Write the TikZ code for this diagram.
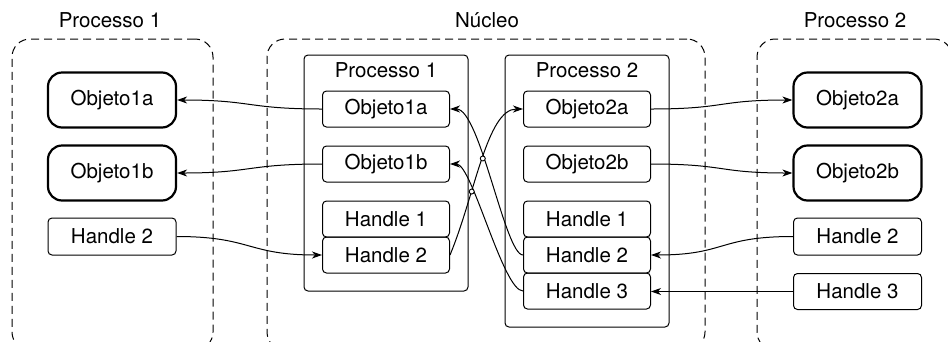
\documentclass[tikz,border=0pt]{standalone}
\usepackage{fontspec}
\setmainfont{TeX Gyre Heros}
\usetikzlibrary{arrows.meta,intersections}
\begin{document}
\begin{tikzpicture}[x=1pt,y=-1pt,
  every node/.style={font=\fontsize{20.5}{24}\selectfont, inner sep=0pt},
  outerbox/.style={draw, dashed, dash pattern=on 8pt off 5pt, line width=1pt, rounded corners=18pt},
  kbox/.style={draw, line width=1pt, rounded corners=4pt},
  smallbox/.style={draw, line width=1pt, rounded corners=4pt, minimum width=127pt, minimum height=36pt},
  objbox/.style={draw, line width=2.2pt, rounded corners=14pt, minimum width=128pt, minimum height=55pt},
  conn/.style={line width=1pt, -{Stealth[length=10pt,width=7pt,inset=3pt]}},
  hop/.style={draw, fill=white, line width=0.9pt}
]
\useasboundingbox (0,0) rectangle (948,341);
\begin{scope}
\clip (0,0) rectangle (948,341);
% outer dashed regions
\node[outerbox, minimum width=201pt, minimum height=311pt] (outA) at (112.5,194.5) {};
\node[outerbox, minimum width=438pt, minimum height=311pt] (outK) at (486,194.5) {};
\node[outerbox, minimum width=195pt, minimum height=311pt] (outB) at (854.5,194.5) {};
\end{scope}
\node (tA) at (110,20) {Processo 1};
\node (tK) at (487,20) {Núcleo};
\node (tB) at (855,20) {Processo 2};

% kernel process boxes
\node[kbox, minimum width=164pt, minimum height=236pt] (kp1) at (386,173) {};
\node[kbox, minimum width=164pt, minimum height=272pt] (kp2) at (587,191) {};
\node (kp1t) at (386,70) {Processo 1};
\node (kp2t) at (587,70) {Processo 2};

% kernel process 1 entries
\node[smallbox] (k1oa) at (386,109) {Objeto1a};
\node[smallbox] (k1ob) at (386,164) {Objeto1b};
\node[smallbox] (k1h1) at (386,219) {Handle 1};
\node[smallbox] (k1h2) at (386,255) {Handle 2};

% kernel process 2 entries
\node[smallbox] (k2oa) at (587,109) {Objeto2a};
\node[smallbox] (k2ob) at (587,164) {Objeto2b};
\node[smallbox] (k2h1) at (587,219) {Handle 1};
\node[smallbox] (k2h2) at (587,255) {Handle 2};
\node[smallbox] (k2h3) at (587,291) {Handle 3};

% user process 1
\node[objbox] (u1a) at (112,100) {Objeto1a};
\node[objbox] (u1b) at (112,173) {Objeto1b};
\node[smallbox, minimum width=128pt, minimum height=37pt] (u1h2) at (112,236.5) {Handle 2};

% user process 2
\node[objbox] (u2a) at (857.5,100) {Objeto2a};
\node[objbox] (u2b) at (857.5,173) {Objeto2b};
\node[smallbox, minimum width=128pt, minimum height=37pt] (u2h2) at (857.5,236.5) {Handle 2};
\node[smallbox, minimum width=128pt, minimum height=36pt] (u2h3) at (857.5,291.5) {Handle 3};

% connectors to user processes
\draw[conn] (k1oa.west) .. controls +(-75,0) and +(75,0) .. (u1a.east);
\draw[conn] (k1ob.west) .. controls +(-75,0) and +(75,0) .. (u1b.east);
\draw[conn] (u1h2.east) .. controls +(75,0) and +(-75,0) .. (k1h2.west);
\draw[conn] (k2oa.east) .. controls +(75,0) and +(-75,0) .. (u2a.west);
\draw[conn] (k2ob.east) .. controls +(75,0) and +(-75,0) .. (u2b.west);
\draw[conn] (u2h2.west) .. controls +(-75,0) and +(75,0) .. (k2h2.east);
\draw[conn] (u2h3.west) -- (k2h3.east |- u2h3.west);

% crossing connectors in the kernel
\draw[conn, name path=pa] (k1h2.east) .. controls +(25,-60) and +(-36,0) .. (k2oa.west);
\draw[conn, name path=pb] (k2h2.west) .. controls +(-18,0) and +(30,0) .. (k1oa.east);
\draw[conn, name path=pc] (k2h3.west) .. controls +(-20,0) and +(22,0) .. (k1ob.east);
\path[name intersections={of=pa and pb, name=iab}];
\path[name intersections={of=pa and pc, name=iac}];
\draw[hop] (iab-1) circle (2.5pt);
\draw[hop] (iac-1) circle (2.5pt);
\end{tikzpicture}
\end{document}
